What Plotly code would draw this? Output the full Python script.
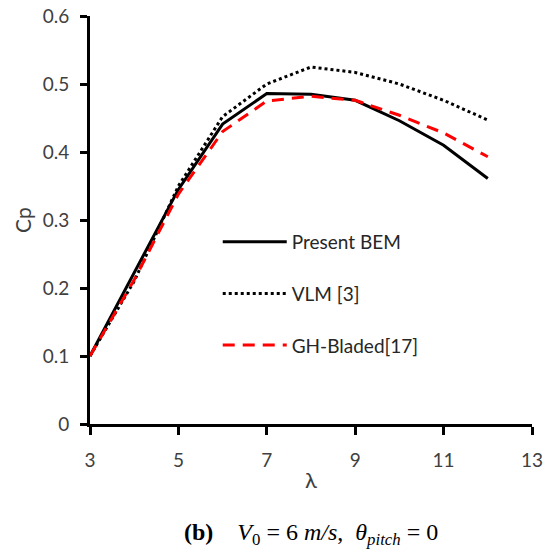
import plotly.graph_objects as go

lam = [3, 4, 5, 6, 7, 8, 9, 10, 11, 12]
cp_bem = [0.100, 0.222, 0.345, 0.441, 0.486, 0.485, 0.476, 0.446, 0.410, 0.361]
cp_vlm = [0.100, 0.210, 0.350, 0.452, 0.500, 0.525, 0.517, 0.500, 0.476, 0.447]
cp_gh = [0.100, 0.212, 0.338, 0.430, 0.475, 0.482, 0.476, 0.454, 0.428, 0.393]

x_ticks = [3, 5, 7, 9, 11, 13]
y_ticks = [0, 0.1, 0.2, 0.3, 0.4, 0.5, 0.6]
y_ticklabels = ["0", "0.1", "0.2", "0.3", "0.4", "0.5", "0.6"]

FONT = "Lato, 'Open Sans', sans-serif"
TICK_COLOR = "#404040"

fig = go.Figure()
fig.add_trace(go.Scatter(x=lam, y=cp_bem, mode="lines", name="Present BEM",
                         legendgroup="a",
                         line=dict(color="black", width=3, dash="solid")))
fig.add_trace(go.Scatter(x=lam, y=cp_vlm, mode="lines", name="VLM [3]",
                         legendgroup="b",
                         line=dict(color="black", width=3, dash="dot")))
fig.add_trace(go.Scatter(x=lam, y=cp_gh, mode="lines", name="GH-Bladed[17]",
                         legendgroup="c",
                         line=dict(color="#ff0000", width=3, dash="12px,8px")))

fig.update_layout(
    width=552, height=553,
    margin=dict(l=90, r=20, t=16, b=129, autoexpand=False),
    paper_bgcolor="white", plot_bgcolor="white",
    font=dict(family=FONT, size=19, color=TICK_COLOR),
    showlegend=True,
    legend=dict(x=0.289, y=0.319, xanchor="left", yanchor="middle",
                bgcolor="rgba(0,0,0,0)", tracegroupgap=24,
                font=dict(family=FONT, size=19, color="#262626"),
                itemwidth=64),
)

fig.update_xaxes(
    range=[3, 13], tickvals=x_ticks, ticktext=[str(v) for v in x_ticks],
    showline=True, linecolor="black", linewidth=3, mirror=False,
    ticks="outside", tickcolor="black", tickwidth=3, ticklen=8,
    ticklabelstandoff=9, automargin=False, ticklabeloverflow="allow",
    showgrid=False, zeroline=False,
    tickfont=dict(family=FONT, size=19, color=TICK_COLOR),
    title=dict(text="λ", font=dict(family=FONT, size=22, color=TICK_COLOR), standoff=3),
)
fig.update_yaxes(
    range=[0, 0.6], tickvals=y_ticks, ticktext=y_ticklabels,
    showline=True, linecolor="black", linewidth=3, mirror=False,
    ticks="outside", tickcolor="black", tickwidth=3, ticklen=7,
    ticklabelstandoff=7, automargin=False, ticklabeloverflow="allow",
    showgrid=False, zeroline=False,
    tickfont=dict(family=FONT, size=19, color=TICK_COLOR),
    title=dict(text="Cp", font=dict(family=FONT, size=21, color=TICK_COLOR), standoff=6),
)

fig.add_annotation(
    xref="paper", yref="paper", x=0.5, y=-0.27, xanchor="center", yanchor="middle",
    showarrow=False,
    text=("<b>(b)</b>&nbsp;&nbsp;&nbsp;&nbsp;<i>V</i><sub>0</sub> = 6&nbsp;<i>m/s</i>,"
          "&nbsp;&nbsp;<i>θ</i><sub><i>pitch</i></sub> = 0"),
    font=dict(family="'Liberation Serif', 'DejaVu Serif', serif", size=24, color="black"),
)

fig.write_html("out.html", config={"displayModeBar": False},
               post_script="document.body.style.margin='0';")
